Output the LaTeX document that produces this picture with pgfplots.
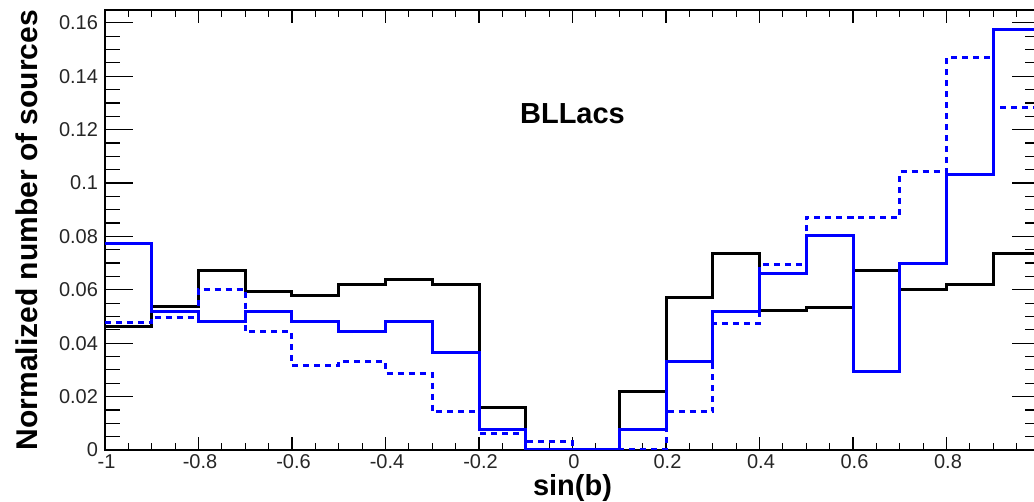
\documentclass[border=0pt]{standalone}
\usepackage{pgfplots}
\pgfplotsset{compat=1.18}
\usepackage{fontspec}
\setmainfont{Liberation Sans}
\begin{document}
\begin{tikzpicture}
\begin{axis}[
  at={(0,0)}, anchor=south west,
  scale only axis, width=935pt, height=440pt,
  xmin=-1, xmax=1, ymin=0, ymax=0.1648,
  clip mode=individual,
  xtick={-1,-0.8,-0.6,-0.4,-0.2,0,0.2,0.4,0.6,0.8,1},
  xticklabels={-1,-0.8,-0.6,-0.4,-0.2,0,0.2,0.4,0.6,0.8,{}},
  ytick={0,0.02,0.04,0.06,0.08,0.1,0.12,0.14,0.16},
  yticklabels={0,0.02,0.04,0.06,0.08,0.1,0.12,0.14,0.16},
  minor x tick num=3, minor y tick num=3,
  tick align=inside,
  xtick pos=both, ytick pos=both,
  xticklabel pos=lower, yticklabel pos=left,
  xtick style={/pgfplots/major tick length=13pt,/pgfplots/minor tick length=7pt,line width=1.2pt,black},
  ytick style={/pgfplots/major tick length=28pt,/pgfplots/minor tick length=15pt,line width=1.2pt,black},
  axis line style={line width=1.2pt},
  tick label style={font=\fontsize{20}{20}\selectfont, text=black!85},
  xticklabel style={yshift=-1pt, xshift=1.5pt},
  yticklabel style={xshift=-3.5pt},
]
\addplot[const plot mark left, black, line width=3pt] coordinates {
(-1,0.0464) (-0.9,0.0539) (-0.8,0.0674) (-0.7,0.0595) (-0.6,0.058) (-0.5,0.0618) (-0.4,0.0637) (-0.3,0.0618) (-0.2,0.0158) (-0.1,0) (0,0) (0.1,0.0218) (0.2,0.057) (0.3,0.0736) (0.4,0.0524) (0.5,0.0533) (0.6,0.0674) (0.7,0.0602) (0.8,0.0618) (0.9,0.0736) (1,0.0736)};
\addplot[const plot mark left, blue, line width=3pt, dash pattern=on 6pt off 5pt] coordinates {
(-1,0.0477) (-0.9,0.0497) (-0.8,0.0602) (-0.7,0.0443) (-0.6,0.0316) (-0.5,0.0331) (-0.4,0.0287) (-0.3,0.0143) (-0.2,0.0062) (-0.1,0.0031) (0,0) (0.1,0) (0.2,0.0143) (0.3,0.0474) (0.4,0.0693) (0.5,0.0871) (0.6,0.0871) (0.7,0.1042) (0.8,0.147) (0.9,0.1283) (1,0.1283)};
\addplot[const plot mark left, blue, line width=3pt] coordinates {
(-1,0.0774) (-0.9,0.052) (-0.8,0.048) (-0.7,0.052) (-0.6,0.0483) (-0.5,0.0443) (-0.4,0.0483) (-0.3,0.0367) (-0.2,0.0075) (-0.1,0) (0,0) (0.1,0.0075) (0.2,0.033) (0.3,0.052) (0.4,0.0662) (0.5,0.0805) (0.6,0.0293) (0.7,0.0699) (0.8,0.103) (0.9,0.1575) (1,0.1575)};
\node[font=\fontsize{29}{29}\selectfont\bfseries] at (axis cs:0,0.126) {BLLacs};
\node[font=\fontsize{29}{29}\selectfont\bfseries, anchor=center] at (rel axis cs:0.5,-0.086) {sin(b)};
\node[font=\fontsize{30}{30}\selectfont\bfseries, anchor=center, rotate=90] at (rel axis cs:-0.0834,0.5) {Normalized number of sources};
\end{axis}
\pgfresetboundingbox
\useasboundingbox (-105pt,-52pt) rectangle (929pt,450pt);
\end{tikzpicture}
\end{document}
